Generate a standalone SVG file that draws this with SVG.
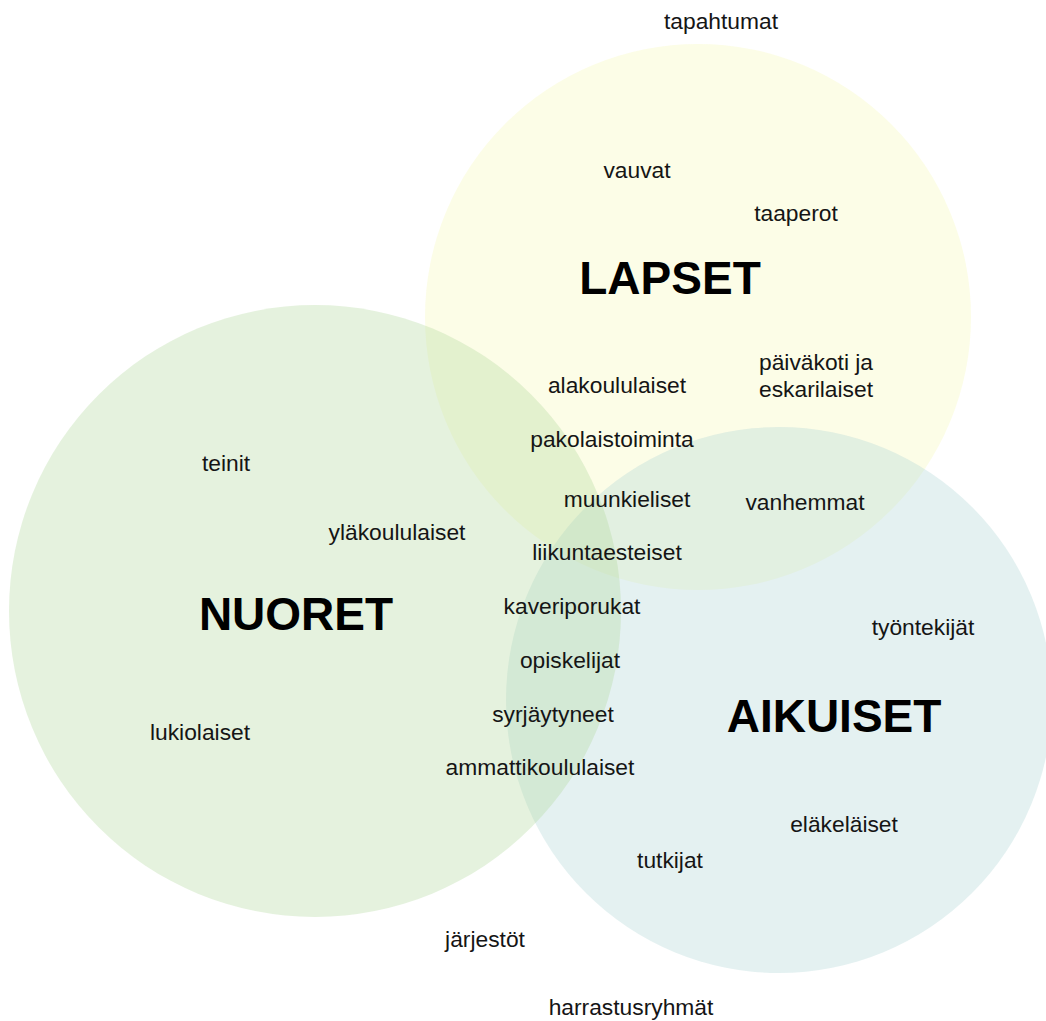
<svg xmlns="http://www.w3.org/2000/svg" width="1046" height="1021" viewBox="0 0 1046 1021">
<style>
text{font-family:"Liberation Sans",Arial,sans-serif;fill:#151515;text-anchor:middle}
.lbl{font-size:22.8px}
.ttl{font-size:46px;font-weight:bold;fill:#000}
.c{fill-opacity:0.35}
</style>
<rect width="1046" height="1021" fill="#ffffff"/>
<g id="circle-lapset"><circle class="c" cx="698" cy="317" r="273" fill="#f6f9ba"/></g>
<g id="circle-aikuiset"><circle class="c" cx="779" cy="700" r="273" fill="#b2d7d7"/></g>
<g id="circle-nuoret"><circle class="c" cx="315" cy="611" r="306" fill="#b5daa1"/></g>
<g id="connectors"></g>
<g id="titles">
<text class="ttl" x="670" y="294">LAPSET</text>
<text class="ttl" x="296" y="630">NUORET</text>
<text class="ttl" x="834" y="732">AIKUISET</text>
</g>
<g id="labels">
<g id="n-tapahtumat"><text class="lbl" x="721" y="29">tapahtumat</text></g>
<g id="n-vauvat"><text class="lbl" x="637" y="178">vauvat</text></g>
<g id="n-taaperot"><text class="lbl" x="796" y="221">taaperot</text></g>
<g id="n-paivakoti"><text class="lbl" x="759" y="370" style="text-anchor:start">päiväkoti ja</text><text class="lbl" x="759" y="397" style="text-anchor:start">eskarilaiset</text></g>
<g id="n-alakoululaiset"><text class="lbl" x="617" y="393">alakoululaiset</text></g>
<g id="n-pakolaistoiminta"><text class="lbl" x="612" y="447">pakolaistoiminta</text></g>
<g id="n-teinit"><text class="lbl" x="226" y="471">teinit</text></g>
<g id="n-muunkieliset"><text class="lbl" x="627" y="507">muunkieliset</text></g>
<g id="n-vanhemmat"><text class="lbl" x="805" y="510">vanhemmat</text></g>
<g id="n-ylakoululaiset"><text class="lbl" x="397" y="540">yläkoululaiset</text></g>
<g id="n-liikuntaesteiset"><text class="lbl" x="607" y="560">liikuntaesteiset</text></g>
<g id="n-kaveriporukat"><text class="lbl" x="572" y="614">kaveriporukat</text></g>
<g id="n-tyontekijat"><text class="lbl" x="923" y="635">työntekijät</text></g>
<g id="n-opiskelijat"><text class="lbl" x="570" y="668">opiskelijat</text></g>
<g id="n-syrjaytyneet"><text class="lbl" x="553" y="722">syrjäytyneet</text></g>
<g id="n-lukiolaiset"><text class="lbl" x="200" y="740">lukiolaiset</text></g>
<g id="n-ammattikoululaiset"><text class="lbl" x="540" y="775">ammattikoululaiset</text></g>
<g id="n-elakelaiset"><text class="lbl" x="844" y="832">eläkeläiset</text></g>
<g id="n-tutkijat"><text class="lbl" x="670" y="868">tutkijat</text></g>
<g id="n-jarjestot"><text class="lbl" x="485" y="947">järjestöt</text></g>
<g id="n-harrastusryhmat"><text class="lbl" x="631" y="1015">harrastusryhmät</text></g>
</g>
</svg>
